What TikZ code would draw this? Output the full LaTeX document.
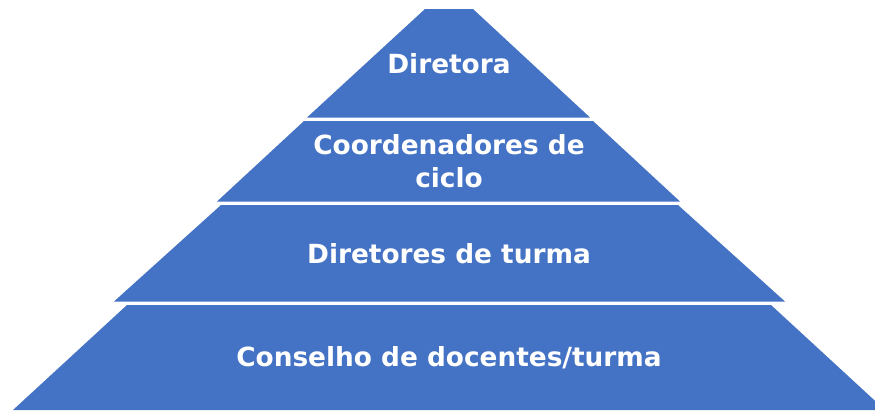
\documentclass[tikz,border=0pt]{standalone}
\usepackage{fontspec}
\setmainfont{DejaVu Sans}
\definecolor{layer blue}{HTML}{4472C4}
\def\topLayer{(425,9) -- (473,9) -- (590,117.5) -- (307,117.5) -- cycle}
\def\secondLayer{(304,121) -- (593,121) -- (680,201.5) -- (217,201.5) -- cycle}
\def\thirdLayer{(221,205) -- (678,205) -- (785,301.5) -- (114,301.5) -- cycle}
\def\baseLayer{(127,305) -- (771,305) -- (885,410) -- (13,410) -- cycle}
\tikzset{layer/.style={fill=layer blue},
    level text/.style={text=white, align=center,
      font=\bfseries\fontsize{15}{18.7}\selectfont}}

\begin{document}
\begin{tikzpicture}[x=0.02cm, y=-0.02cm]
     \clip (0,0) rectangle (875,410);
     \fill[white] (0,0) rectangle (875,410);
     \fill[layer] \topLayer;
     \fill[layer] \secondLayer;
     \fill[layer] \thirdLayer;
     \fill[layer] \baseLayer;
     \node[level text] (diretora) at (449,64) {Diretora};
     \node[level text] (coordenadores) at (449,161) {Coordenadores de\\ciclo};
     \node[level text] (diretores) at (449,254) {Diretores de turma};
     \node[level text] (conselho) at (449,358) {Conselho de docentes/turma};
\end{tikzpicture}
\end{document}
